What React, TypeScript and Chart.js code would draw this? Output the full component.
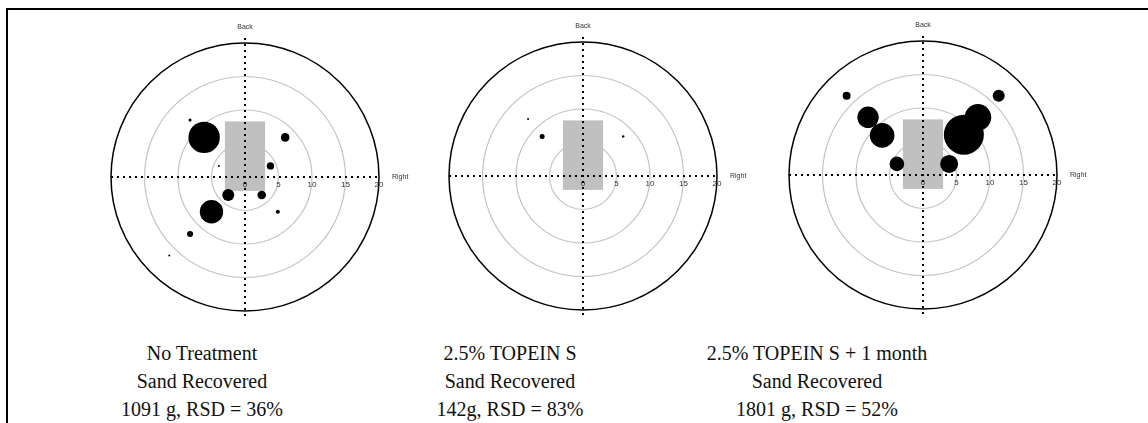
import React, { useEffect, useRef } from "react";
import { Chart, registerables } from "chart.js";

Chart.register(...registerables);

// ---- data ----
const tickValues = [0, 5, 10, 15, 20];
const ringRadii = [5, 10, 15];
const outerRadius = 20;
const rectX = [-3, 3];
const rectY = [-2, 8];

const noTreatmentX = [-8.2, -6.1, 6.0, 3.8, -3.9, -2.5, 2.5, -5.0, 4.9, -8.2, -11.3];
const noTreatmentY = [8.2, 5.7, 5.7, 1.6, 1.6, -2.6, -2.6, -5.0, -5.0, -8.2, -11.3];
const noTreatmentR = [1.5, 15.7, 4.3, 3.7, 1, 6, 4.3, 11.7, 2, 3, 1];

const topeinX = [-8.2, -6.1, 6.0];
const topeinY = [8.2, 5.7, 5.7];
const topeinR = [1, 2.5, 1.2];

const monthX = [-11.4, 11.3, -8.2, -6.1, 8.2, 6.1, -3.9, 3.9];
const monthY = [11.4, 11.4, 8.3, 5.7, 8.3, 5.8, 1.6, 1.6];
const monthR = [4, 6, 10.7, 12.3, 13.3, 20, 7.3, 9];

const captionNoTreatment = ["No Treatment", "Sand Recovered", "1091 g, RSD = 36%"];
const captionTopein = ["2.5% TOPEIN S", "Sand Recovered", "142g, RSD = 83%"];
const captionMonth = ["2.5% TOPEIN S + 1 month", "Sand Recovered", "1801 g, RSD = 52%"];

const SANS = "'Liberation Sans', Arial, sans-serif";
const SERIF = "'Liberation Serif', 'Times New Roman', serif";

const targetPlugin = {
  id: "target",
  beforeDraw(chart: any) {
    const { ctx } = chart;
    const x = chart.scales.x;
    const y = chart.scales.y;
    const cx = x.getPixelForValue(0);
    const cy = y.getPixelForValue(0);
    const px = (v: number) => Math.abs(x.getPixelForValue(v) - cx);
    ctx.save();
    ctx.strokeStyle = "#c4c4c4";
    ctx.lineWidth = 1.2;
    ringRadii.forEach((r) => {
      ctx.beginPath();
      ctx.arc(cx, cy, px(r), 0, Math.PI * 2);
      ctx.stroke();
    });
    ctx.strokeStyle = "#000";
    ctx.lineWidth = 1.5;
    ctx.beginPath();
    ctx.arc(cx, cy, px(outerRadius), 0, Math.PI * 2);
    ctx.stroke();
    ctx.fillStyle = "#c0c0c0";
    const x0 = x.getPixelForValue(rectX[0]);
    const x1 = x.getPixelForValue(rectX[1]);
    const y0 = y.getPixelForValue(rectY[1]);
    const y1 = y.getPixelForValue(rectY[0]);
    ctx.fillRect(x0, y0, x1 - x0, y1 - y0);
    ctx.fillStyle = "#333";
    ctx.font = `7px ${SANS}`;
    ctx.textAlign = "center";
    ctx.textBaseline = "middle";
    ctx.fillText("Back", cx, y.getPixelForValue(outerRadius) - 11);
    ctx.textAlign = "left";
    ctx.fillText("Right", x.getPixelForValue(outerRadius) + 13, cy);
    ctx.restore();
  },
  beforeDatasetsDraw(chart: any) {
    const { ctx } = chart;
    const x = chart.scales.x;
    const y = chart.scales.y;
    const cx = Math.round(x.getPixelForValue(0));
    const cy = Math.round(y.getPixelForValue(0));
    ctx.save();
    ctx.strokeStyle = "#000";
    ctx.lineWidth = 2;
    ctx.setLineDash([2, 4]);
    ctx.beginPath();
    ctx.moveTo(x.getPixelForValue(-outerRadius), cy);
    ctx.lineTo(x.getPixelForValue(outerRadius), cy);
    ctx.stroke();
    ctx.beginPath();
    ctx.moveTo(cx, y.getPixelForValue(outerRadius));
    ctx.lineTo(cx, y.getPixelForValue(-outerRadius) + 3);
    ctx.stroke();
    ctx.restore();
  },
};

const CW = 338;
const CH = 328;

function Target(props: { xs: number[]; ys: number[]; rs: number[]; left: number; top: number }) {
  const ref = useRef<HTMLCanvasElement | null>(null);
  useEffect(() => {
    if (!ref.current) return;
    const chart = new Chart(ref.current, {
      type: "bubble",
      data: {
        datasets: [
          {
            data: props.xs.map((v, i) => ({ x: v, y: props.ys[i], r: props.rs[i] })),
            backgroundColor: "#000",
            borderWidth: 0,
            hoverRadius: 0,
          },
        ],
      },
      plugins: [targetPlugin],
      options: {
        responsive: false,
        animation: false,
        events: [],
        layout: { padding: { left: 20, right: 50, top: 30, bottom: 20 } },
        plugins: { legend: { display: false }, tooltip: { enabled: false } },
        scales: {
          x: {
            type: "linear",
            min: -20,
            max: 20,
            position: { y: 0 },
            grid: { display: false, drawTicks: false },
            border: { display: false },
            ticks: {
              stepSize: 5,
              padding: 3,
              autoSkip: false,
              maxRotation: 0,
              color: "#333",
              font: { size: 8, family: SANS },
              callback: (v: any) => (tickValues.includes(Number(v)) ? String(v) : ""),
            },
            afterFit: (s: any) => {
              s.paddingLeft = 0;
              s.paddingRight = 0;
            },
          },
          y: {
            type: "linear",
            min: -20,
            max: 20,
            position: { x: 0 },
            grid: { display: false, drawTicks: false },
            border: { display: false },
            ticks: { display: false },
            afterFit: (s: any) => {
              s.paddingTop = 0;
              s.paddingBottom = 0;
            },
          },
        },
      } as any,
    });
    return () => chart.destroy();
  }, []);
  return (
    <canvas
      ref={ref}
      width={CW}
      height={CH}
      style={{ position: "absolute", left: props.left, top: props.top, width: CW, height: CH }}
    />
  );
}

function Caption(props: { lines: string[]; cx: number }) {
  return (
    <div
      style={{
        position: "absolute",
        left: props.cx - 160,
        top: 339,
        width: 320,
        textAlign: "center",
        fontFamily: SERIF,
        fontSize: 20,
        lineHeight: "28px",
        color: "#111",
      }}
    >
      {props.lines.map((l, i) => (
        <div key={i}>{l}</div>
      ))}
    </div>
  );
}

export default function App() {
  return (
    <div
      style={{
        position: "fixed",
        left: 0,
        top: 0,
        width: 1148,
        height: 423,
        background: "#fff",
        overflow: "hidden",
      }}
    >
      <div style={{ position: "absolute", left: 6, top: 8, width: 1142, height: 2, background: "#000" }} />
      <div style={{ position: "absolute", left: 6, top: 8, width: 2, height: 415, background: "#000" }} />
      <Target xs={noTreatmentX} ys={noTreatmentY} rs={noTreatmentR} left={91} top={8} />
      <Target xs={topeinX} ys={topeinY} rs={topeinR} left={429} top={7} />
      <Target xs={monthX} ys={monthY} rs={monthR} left={769} top={6} />
      <Caption lines={captionNoTreatment} cx={202} />
      <Caption lines={captionTopein} cx={510} />
      <Caption lines={captionMonth} cx={817} />
    </div>
  );
}
